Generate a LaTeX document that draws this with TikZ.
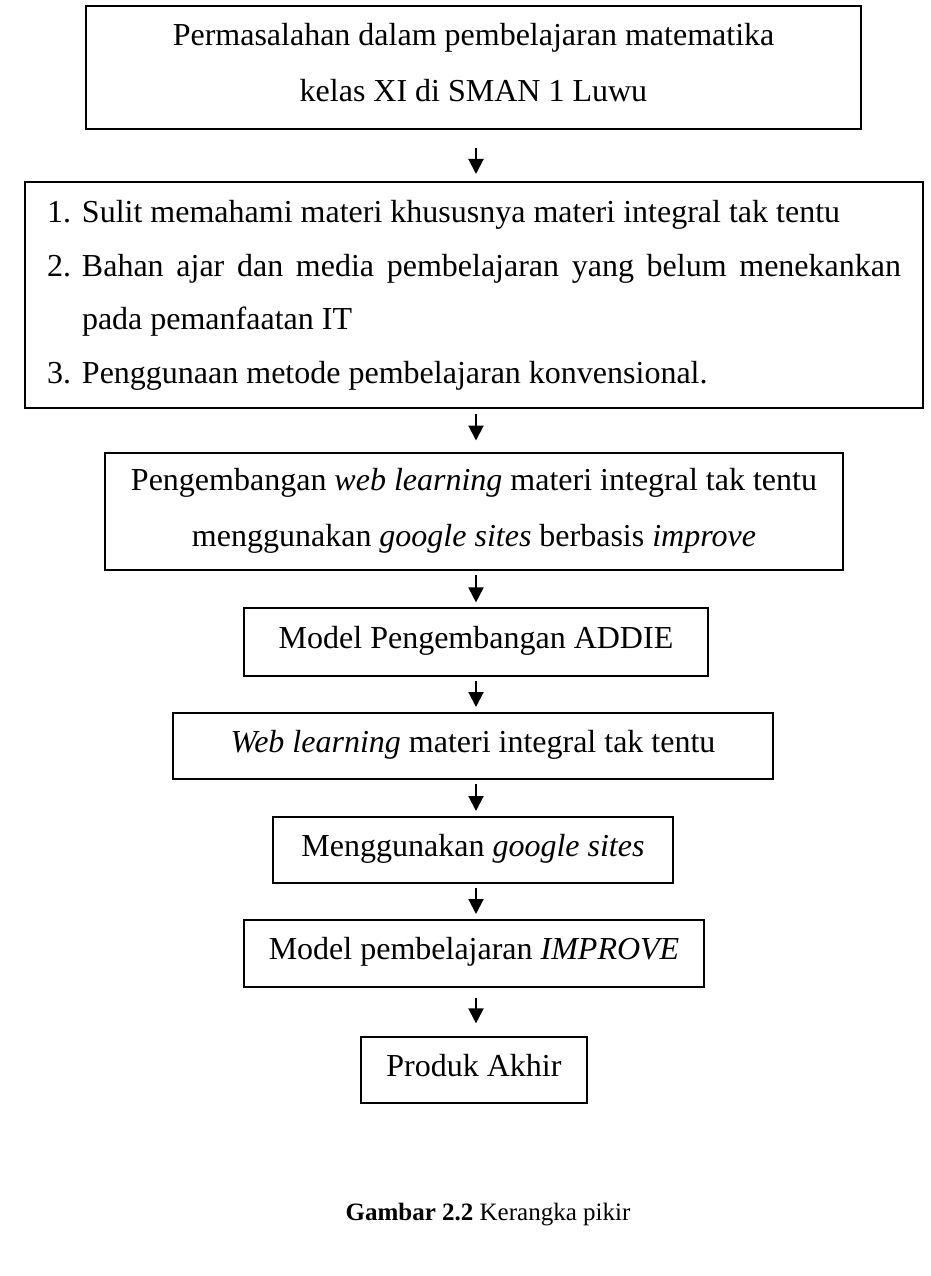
\documentclass[tikz,border=0pt]{standalone}
\usepackage{fontspec}
\setmainfont{Liberation Serif}
\usetikzlibrary{arrows.meta,positioning}

\newcommand{\atas}[1]{\rule{0pt}{#1}}
\newcommand{\bawah}[1]{\rule[-#1]{0pt}{#1}}

\begin{document}
\begin{tikzpicture}[x=0.5pt, y=-0.5pt,
    box/.style = {draw, line width=1pt, inner sep=0pt, align=center,
                  font=\fontsize{16}{28}\selectfont},
    satu/.style = {box, text height=19.5pt, text depth=13.5pt},
    tipis/.style = {line width=0.6pt},
    arr/.style = {-{Triangle[length=7.5pt,width=7.5pt]}, line width=1pt,
                  shorten <=2pt, shorten >=2.5pt}]
    \useasboundingbox (0,0) rectangle (931,1276);
    \coordinate (sumbu) at (476,0);
    \node [box, minimum width=387.5pt] (masalah) at (473.5,67.5)
        {\atas{19.5pt}Permasalahan dalam pembelajaran matematika\\kelas XI di SMAN 1 Luwu\bawah{14pt}};
    \node [box, text width=427pt, inner xsep=11pt, align=justify,
           font=\fontsize{16}{26.67}\selectfont] (daftar) at (474,295)
        {\atas{20.5pt}\hangindent=17.5pt\hangafter=1\makebox[17.5pt][l]{1.}Sulit memahami materi khususnya materi integral tak tentu\par
         \hangindent=17.5pt\hangafter=1\makebox[17.5pt][l]{2.}Bahan ajar dan media pembelajaran yang belum menekankan\linebreak pada pemanfaatan IT\par
         \hangindent=17.5pt\hangafter=1\makebox[17.5pt][l]{3.}Penggunaan metode pembelajaran konvensional.\bawah{12.5pt}};
    \node [box, minimum width=369pt] (kembang) at (474,511)
        {\atas{19pt}Pengembangan \textit{web learning} materi integral tak tentu\\menggunakan \textit{google sites} berbasis \textit{improve}\bawah{11.5pt}};
    \node [satu, tipis, minimum width=232pt, text height=20pt, text depth=14pt] (addie) at (476,642)
        {Model Pengembangan ADDIE};
    \node [satu, minimum width=300pt] (web) at (473,746)
        {\textit{Web learning} materi integral tak tentu};
    \node [satu, minimum width=200pt] (sites) at (473,850)
        {Menggunakan \textit{google sites}};
    \node [satu, minimum width=230pt, text depth=14pt] (improve) at (474,953.5)
        {Model pembelajaran \textit{IMPROVE}};
    \node [satu, tipis, minimum width=113pt] (produk) at (474,1070)
        {Produk Akhir};
    \node [font=\fontsize{12.5}{15}\selectfont] (judul) at (488,1215)
        {\textbf{Gambar 2.2} Kerangka pikir};

    \draw [arr, shorten <=9pt, shorten >=3.5pt] (sumbu |- masalah.south) -- (sumbu |- daftar.north);
    \draw [arr, shorten <=2.5pt, shorten >=5.5pt] (sumbu |- daftar.south) -- (sumbu |- kembang.north);
    \draw [arr] (sumbu |- kembang.south) -- (sumbu |- addie.north);
    \draw [arr] (sumbu |- addie.south) -- (sumbu |- web.north);
    \draw [arr] (sumbu |- web.south) -- (sumbu |- sites.north);
    \draw [arr] (sumbu |- sites.south) -- (sumbu |- improve.north);
    \draw [arr, shorten <=5pt, shorten >=6.5pt] (sumbu |- improve.south) -- (sumbu |- produk.north);
\end{tikzpicture}
\end{document}
